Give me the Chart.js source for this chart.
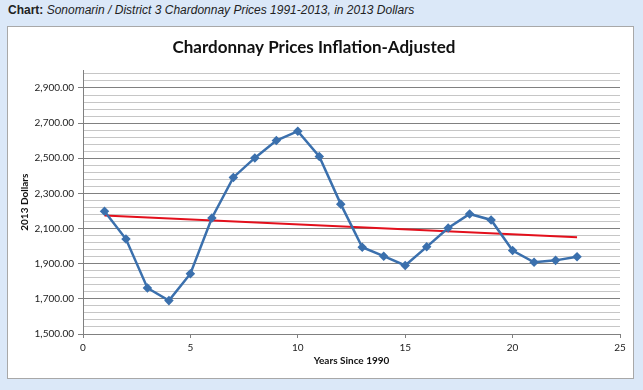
<!DOCTYPE html>
<html>
<head>
<meta charset="utf-8">
<script src="https://cdn.jsdelivr.net/npm/chart.js@4"></script>
<style>
  body { margin: 0; background: #dbe8f8; width: 643px; height: 390px; position: relative; overflow: hidden; }
  .caption { position: absolute; left: 8px; top: 3px; font: italic 12px "Liberation Sans", Arial, sans-serif; color: #222; }
  .caption b { font-style: normal; }
  .box { position: absolute; left: 7px; top: 26px; width: 627px; height: 353px; background: #fff; border: 1px solid #a8a8a8; box-sizing: border-box; }
  canvas { position: absolute; left: 0; top: 0; }
</style>
</head>
<body>
<div class="caption"><b>Chart:</b> Sonomarin / District 3 Chardonnay Prices 1991-2013, in 2013 Dollars</div>
<div class="box"><canvas id="chart" width="625" height="351"></canvas></div>
<script>
// years since 1990 and inflation adjusted price (2013 dollars)
const years = [1, 2, 3, 4, 5, 6, 7, 8, 9, 10, 11, 12, 13, 14, 15, 16, 17, 18, 19, 20, 21, 22, 23];
const prices = [2198, 2040, 1762, 1690, 1843, 2160, 2391, 2502, 2601, 2654, 2510, 2239,
                1994, 1943, 1890, 1996, 2103, 2183, 2149, 1975, 1908, 1919, 1940];
// linear trend endpoints
const trendYears = [1, 23];
const trendPrices = [2174, 2051];
// y axis: labelled every 200, light gridlines every 40, top at 3000
const yLabels = [1500, 1700, 1900, 2100, 2300, 2500, 2700, 2900];
const yMin = 1500, yMax = 3000, yMinor = 40;

const isMajor = (v) => yLabels.includes(Math.round(v));

const ctx = document.getElementById('chart').getContext('2d');
new Chart(ctx, {
  type: 'scatter',
  data: {
    datasets: [
      {
        label: 'Price',
        data: years.map((x, i) => ({ x: x, y: prices[i] })),
        showLine: true,
        borderColor: '#3b70ad',
        backgroundColor: '#3b70ad',
        borderWidth: 2.5,
        pointStyle: 'rectRot',
        pointRadius: 3,
        tension: 0
      },
      {
        label: 'Trend',
        data: trendYears.map((x, i) => ({ x: x, y: trendPrices[i] })),
        showLine: true,
        borderColor: '#e3101c',
        backgroundColor: '#e3101c',
        borderWidth: 2,
        pointRadius: 0
      }
    ]
  },
  options: {
    responsive: false,
    animation: false,
    layout: { padding: { top: 0, right: 13, bottom: 0, left: 0 } },
    plugins: {
      legend: { display: false },
      tooltip: { enabled: false },
      title: {
        display: true,
        text: 'Chardonnay Prices Inflation-Adjusted',
        font: { family: 'Lato', size: 17, weight: 'bold' },
        color: '#111',
        padding: { top: 10, bottom: 13 }
      }
    },
    scales: {
      x: {
        type: 'linear',
        min: 0,
        max: 25,
        ticks: { stepSize: 5, padding: 4, color: '#222', font: { family: 'Lato', size: 10 } },
        grid: { drawOnChartArea: false, drawTicks: true, tickLength: 4, color: '#808080' },
        border: { color: '#808080' },
        title: {
          display: true,
          text: 'Years Since 1990',
          color: '#111',
          font: { family: 'Lato', size: 10, weight: 'bold' },
          padding: { top: 0, bottom: 11 }
        },
        afterFit: (scale) => { scale.height = 44; }
      },
      y: {
        min: yMin,
        max: yMax,
        afterBuildTicks: (scale) => {
          const t = [];
          for (let v = yMin; v < yMax; v += yMinor) t.push({ value: v });
          t.push({ value: yMax });
          scale.ticks = t;
        },
        ticks: {
          autoSkip: false,
          padding: 4,
          color: '#222',
          font: { family: 'Lato', size: 10 },
          callback: (v) => isMajor(v)
            ? Math.round(v).toLocaleString('en-US', { minimumFractionDigits: 2, maximumFractionDigits: 2 })
            : ''
        },
        grid: {
          tickLength: 5,
          color: (c) => {
            const v = Math.round(c.tick.value);
            if (v >= yMax) return 'rgba(0,0,0,0)';
            return isMajor(v) ? '#808080' : '#c6c6c6';
          },
          tickColor: (c) => isMajor(c.tick.value) ? '#808080' : 'rgba(0,0,0,0)'
        },
        border: { color: '#808080' },
        title: {
          display: true,
          text: '2013 Dollars',
          color: '#111',
          font: { family: 'Lato', size: 10, weight: 'bold' },
          padding: { top: 11, bottom: 0 }
        },
        afterFit: (scale) => { scale.width = 75; }
      }
    }
  }
});
</script>
</body>
</html>
